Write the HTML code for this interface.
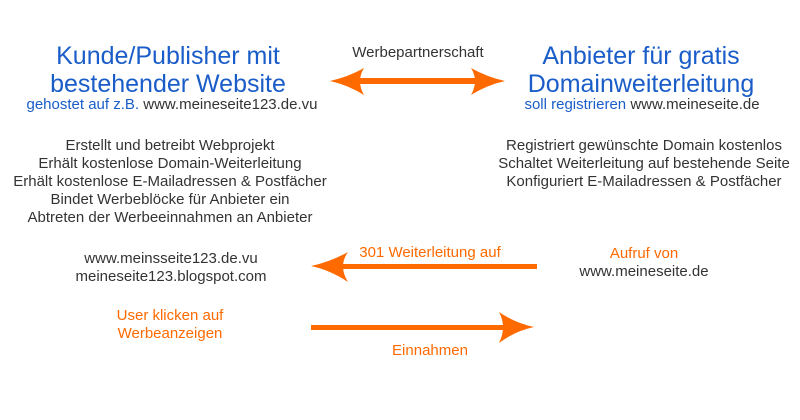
<!DOCTYPE html>
<html><head><meta charset="utf-8"><style>
html,body{margin:0;padding:0;background:#fff;}
svg{display:block;font-family:"Liberation Sans",Arial,sans-serif;}
.t{font-size:25px;fill:#1a5dc8;}
.b{font-size:15px;fill:#333;}
.bl{fill:#1a5dc8;}
.o{font-size:15px;fill:#ff6a00;}
</style></head><body>
<svg width="800" height="420" viewBox="0 0 800 420">
<g text-anchor="middle">
<text class="t" x="168" y="64">Kunde/Publisher mit</text>
<text class="t" x="168" y="92">bestehender Website</text>
<text class="b" x="172" y="109"><tspan class="bl">gehostet auf z.B.</tspan> www.meineseite123.de.vu</text>
<text class="t" x="641" y="64">Anbieter für gratis</text>
<text class="t" x="641" y="92">Domainweiterleitung</text>
<text class="b" x="642" y="109"><tspan class="bl">soll registrieren</tspan> www.meineseite.de</text>
<text class="b" x="418" y="57">Werbepartnerschaft</text>
<text class="b" x="170" y="150">Erstellt und betreibt Webprojekt</text>
<text class="b" x="170" y="168">Erhält kostenlose Domain-Weiterleitung</text>
<text class="b" x="170" y="186">Erhält kostenlose E-Mailadressen &amp; Postfächer</text>
<text class="b" x="170" y="204">Bindet Werbeblöcke für Anbieter ein</text>
<text class="b" x="170" y="222">Abtreten der Werbeeinnahmen an Anbieter</text>
<text class="b" x="644" y="150">Registriert gewünschte Domain kostenlos</text>
<text class="b" x="644" y="168">Schaltet Weiterleitung auf bestehende Seite</text>
<text class="b" x="644" y="186">Konfiguriert E-Mailadressen &amp; Postfächer</text>
<text class="b" x="171" y="263">www.meinsseite123.de.vu</text>
<text class="b" x="171" y="281">meineseite123.blogspot.com</text>
<text class="o" x="644" y="258">Aufruf von</text>
<text class="b" x="644" y="276">www.meineseite.de</text>
<text class="o" x="430" y="257">301 Weiterleitung auf</text>
<text class="o" x="170" y="320">User klicken auf</text>
<text class="o" x="170" y="338">Werbeanzeigen</text>
<text class="o" x="430" y="355">Einnahmen</text>
</g>
<g fill="#ff6a00">
<rect x="355" y="78" width="130" height="6"/>
<path d="M330 81 Q348 77 364 68 Q356 81 364 95 Q348 85 330 81Z"/>
<path d="M505 81 Q487 77 471 68 Q479 81 471 95 Q487 85 505 81Z"/>
<rect x="340" y="264" width="197" height="5"/>
<path d="M311 266 Q330 262 348 252 Q338 266 348 282 Q330 270 311 266Z"/>
<rect x="311" y="325" width="195" height="5"/>
<path d="M534 327 Q515 323 499 312 Q507 327 499 343 Q515 331 534 327Z"/>
</g>
</svg>
</body></html>
